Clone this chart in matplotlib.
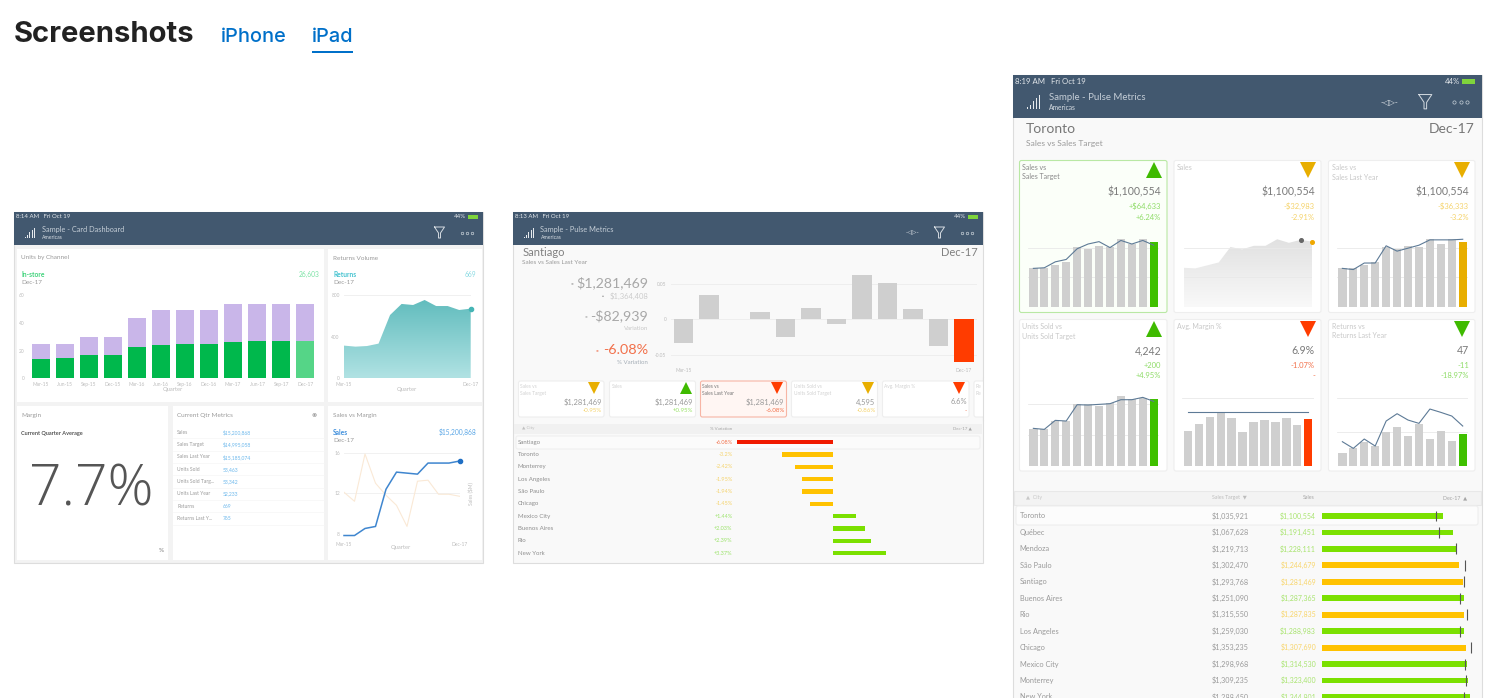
import matplotlib
matplotlib.use('Agg')
import matplotlib.pyplot as plt
import numpy as np
from matplotlib.patches import Rectangle, FancyBboxPatch
from matplotlib.colors import LinearSegmentedColormap

plt.rcParams['font.family'] = ['Lato', 'DejaVu Sans']

W, H = 1486, 698

# ---- data, left screen
quarters = ['Mar-15','Jun-15','Sep-15','Dec-15','Mar-16','Jun-16','Sep-16','Dec-16','Mar-17','Jun-17','Sep-17','Dec-17']
units_total = [24.6,25.0,29.6,29.6,43.6,49.0,49.0,49.4,53.3,53.3,53.7,53.3]
units_store = [14.2,14.5,17.1,17.1,22.9,24.3,24.6,24.8,26.5,27.0,27.2,26.6]
returns_vol = [314,304,310,333,608,714,704,752,694,694,656,669]
sales_m = [7.8,7.8,8.5,8.7,12.4,14.1,14.0,13.9,15.0,15.0,15.0,15.2]
margin_line = [12.1,11.2,15.9,13.0,11.8,10.8,8.7,13.2,13.3,11.9,11.9,11.7]
metric_names = ['Sales','Sales Target','Sales Last Year','Units Sold','Units Sold Targ...','Units Last Year','Returns','Returns Last Y...']
metric_vals = ['$15,200,868','$14,995,058','$15,185,074','53,463','53,342','52,233','669','765']

# ---- data, middle screen
variation = [-0.034,0.034,0.001,0.011,-0.025,0.0165,-0.0065,0.062,0.052,0.014,-0.038,-0.0608]
mid_cities = ['Santiago','Toronto','Monterrey','Los Angeles','São Paulo','Chicago','Mexico City','Buenos Aires','Rio','New York']
mid_pct = [-6.08,-3.2,-2.42,-1.95,-1.94,-1.45,1.44,2.03,2.39,3.37]

# ---- data, right screen (sales in $M)
sales_bars = [0.66,0.65,0.70,0.75,1.01,0.97,1.03,1.01,1.14,1.06,1.14,1.10]
sales_target = [0.65,0.66,0.76,0.80,0.98,1.06,1.10,1.00,1.12,1.06,1.12,1.04]
sales_last = [0.65,0.63,0.74,0.74,1.03,0.94,0.99,1.04,1.13,1.13,1.13,1.14]
sales_area = [0.66,0.65,0.70,0.75,1.01,0.97,1.03,1.03,1.14,1.08,1.13,1.10]
sales_area_ref = 1.135
units_bars = [1.09,1.09,1.33,1.33,1.84,1.84,1.79,1.88,2.09,1.99,2.02,2.00]
units_target = [1.12,1.09,1.36,1.34,1.83,1.82,1.84,1.86,1.98,1.98,2.05,1.93]
margin_bars = [103,125,145,162,144,101,130,136,132,144,123,140]
margin_target = [162]*12
ret_bars = [38,53,72,59,100,115,89,126,81,104,74,95]
ret_last = [72,52,80,59,134,156,137,127,170,160,149,119]

tor_cities = ['Toronto','Québec','Mendoza','São Paulo','Santiago','Buenos Aires','Rio','Los Angeles','Chicago','Mexico City','Monterrey','New York']
tor_target = [1035921,1067628,1219713,1302470,1293768,1251090,1315550,1259030,1353235,1298968,1309235,1288450]
tor_sales = [1100554,1191451,1228111,1244679,1281469,1287365,1287835,1288983,1307690,1314530,1323400,1344801]

HEAD = '#42586f'
GREY = '#cfcfcf'
TXT = '#9a9a9a'
PALE = '#bdbdbd'
GREEN = '#7be000'
GOLD = '#ffc200'
RED = '#ff3a10'

fig = plt.figure(figsize=(W/100, H/100), dpi=100, facecolor='white')
bg = fig.add_axes([0, 0, 1, 1], zorder=0)
bg.set_xlim(0, W)
bg.set_ylim(H, 0)
bg.axis('off')


def box(x0, y0, x1, y1, fc='white', ec='none', lw=0.8, z=1):
    bg.add_patch(Rectangle((x0, y0), x1-x0, y1-y0, fc=fc, ec=ec, lw=lw, zorder=z))


def card(x0, y0, x1, y1, ec='#ececec', fc='white'):
    bg.add_patch(FancyBboxPatch((x0+2, y0+2), x1-x0-4, y1-y0-4, boxstyle='round,pad=2',
                                fc=fc, ec=ec, lw=0.8, zorder=2))


def t(x, y, s, size=5, color=TXT, ha='left', weight='normal', **kw):
    bg.text(x, y, s, fontsize=size, color=color, ha=ha, va='center', fontweight=weight, zorder=5, **kw)


def axes_px(x0, y0, x1, y1):
    ax = fig.add_axes([x0/W, 1-y1/H, (x1-x0)/W, (y1-y0)/H], zorder=3)
    ax.patch.set_alpha(0)
    for s in ax.spines.values():
        s.set_visible(False)
    ax.tick_params(length=0, labelsize=3.5, labelcolor=PALE, pad=3)
    return ax


def header(x0, x1, y0, y1, clock, title, two_way=True):
    s = (y1-y0)/33.0
    box(x0, y0, x1, y1, fc=HEAD, z=2)
    cy = y0+21*s
    t(x0+2, y0+5*s, clock, size=4.3*s, color='#e4e8ec')
    t(x1-17*s, y0+5*s, '44%', size=4.3*s, color='#e4e8ec', ha='right')
    box(x1-15*s, y0+3*s, x1-5*s, y0+7*s, fc='#7fd43c', z=3)
    t(x0+27.5*s, y0+17.3*s, title, size=5.3*s, color='#c5ced7')
    t(x0+27.5*s, y0+25.3*s, 'Americas', size=3.7*s, color='#d8dee4')
    for i, h in enumerate([1.5, 3, 6, 8.5, 10.5]):
        box(x0+10.7*s+i*2.3*s, y0+26*s-h*s, x0+11.7*s+i*2.3*s, y0+26*s, fc='#e6eaee', z=3)
    fx = x1-43.5*s
    bg.plot([fx-5*s, fx+5*s, fx+1*s, fx+1*s, fx-1*s, fx-1*s, fx-5*s],
            [y0+15*s, y0+15*s, y0+21*s, y0+26*s, y0+26*s, y0+21*s, y0+15*s],
            color='#d5dbe1', lw=0.7, zorder=4)
    for i in range(3):
        bg.plot(x1-21.5*s+i*5*s, cy, 'o', ms=1.8*s, mfc='none', mec='#c5ced7', mew=0.5, zorder=4)
    if two_way:
        t(x1-71*s, cy, '-◁▷-', size=4.3*s, color='#e4e8ec', ha='center')


# page heading
bg.text(14, 35, 'Screenshots', fontsize=21, fontweight='bold', color='#222222', family='Inter', va='center')
bg.text(221, 37, 'iPhone', fontsize=14.4, fontweight='medium', color='#0070c9', family='Inter', va='center')
bg.text(312, 37, 'iPad', fontsize=14.4, fontweight='medium', color='#0070c9', family='Inter', va='center')
box(312, 51, 353, 53, fc='#0070c9')

# ---------- left screen ----------
box(14, 212, 483, 563, fc='#f3f3f3', ec='#dddddd')
header(14, 483, 212, 245, '8:14 AM   Fri Oct 19', 'Sample - Card Dashboard', two_way=False)
for r in [(17, 249, 324, 402), (328, 249, 482, 402), (17, 406, 168, 560), (173, 406, 324, 560), (328, 406, 482, 560)]:
    box(*r, fc='white')

t(21, 258, 'Units by Channel', size=4.6)
t(21, 274.5, 'In-store', size=4.8, color='#3ed27a', weight='bold')
t(320, 274.5, '26,603', size=4.8, color='#7be3a5', ha='right')
t(21, 283, 'Dec-17', size=4.6)
ax = axes_px(28.7, 295, 317.3, 378.3)
xs = np.arange(12)
store_cols = ['#00b84c']*11 + ['#55d587']
ax.bar(xs, units_total, width=0.75, color='#c9b6e9')
ax.bar(xs, units_store, width=0.75, color=store_cols)
ax.set_xlim(-0.5, 11.5)
ax.set_ylim(0, 60)
ax.set_xticks(xs, quarters)
ax.set_yticks([0, 20, 40, 60])
t(173, 390, 'Quarter', size=4.2, color=PALE, ha='center')

t(333, 258, 'Returns Volume', size=4.6)
t(333, 274.5, 'Returns', size=4.8, color='#45c3d0', weight='bold')
t(476, 274.5, '669', size=4.8, color='#8adbe3', ha='right')
t(333, 283, 'Dec-17', size=4.6)
ax = axes_px(344, 295, 470.7, 378.3)
teal = LinearSegmentedColormap.from_list('teal', ['#5cbabb', '#b0e2e3'])
poly = ax.fill_between(xs, returns_vol, 0, color='none')
im = ax.imshow(np.linspace(0, 1, 100).reshape(-1, 1), cmap=teal, extent=[0, 11, 0, 800], aspect='auto', origin='upper')
im.set_clip_path(poly.get_paths()[0], transform=ax.transData)
ax.plot(xs[-1], returns_vol[-1], 'o', ms=3, color='#45b5b5', clip_on=False)
ax.axhline(800, color='#eeeeee', lw=0.6, zorder=0)
ax.set_xlim(0, 11)
ax.set_ylim(0, 800)
ax.set_xticks([0, 11], ['Mar-15', 'Dec-17'])
ax.set_yticks([0, 400, 800])
t(407, 390, 'Quarter', size=4.2, color=PALE, ha='center')

t(21, 416, 'Margin', size=4.6)
t(21, 434, 'Current Quarter Average', size=4, color='#555555', weight='bold')
bg.text(91, 491, '7.7%', fontsize=41, fontweight='light', color='#555555', ha='center', va='center', zorder=5, family='Open Sans')
t(164, 551, '%', size=4.5, color='#999999', ha='right', weight='bold')

t(177, 416, 'Current Qtr Metrics', size=4.6)
t(314, 416, '⚭', size=6, color='#999999', ha='center')
for i, (n, v) in enumerate(zip(metric_names, metric_vals)):
    y = 432.3 + i*12.33
    t(177, y, n, size=3.6)
    t(223, y, v, size=3.6, color='#6cb8ec')
    bg.plot([173, 324], [y+6.1, y+6.1], color='#f6f6f6', lw=0.5, zorder=3)

t(333, 416, 'Sales vs Margin', size=4.6)
t(333, 432.5, 'Sales', size=4.8, color='#3f8fdc', weight='bold')
t(476, 432.5, '$15,200,868', size=4.8, color='#5aa6e6', ha='right')
t(333, 440.5, 'Dec-17', size=4.6)
ax = axes_px(344, 453, 459.5, 533.5)
ax.plot(xs, margin_line, color='#fae9d6', lw=0.8)
ax.plot(xs, sales_m, color='#3f86cf', lw=1.1, clip_on=False)
ax.plot(xs[-1], sales_m[-1], 'o', ms=3, color='#1f6fc4', clip_on=False)
ax.set_xlim(0, 11)
ax.set_ylim(8, 16)
ax.set_xticks([0, 11], ['Mar-15', 'Dec-17'])
ax.tick_params(axis='x', pad=6)
ax.set_yticks([8, 12, 16])
ax.grid(axis='y', color='#efefef', lw=0.6)
ax.set_axisbelow(True)
t(401, 548, 'Quarter', size=4.2, color=PALE, ha='center')
t(470, 494, 'Sales ($M)', size=3.6, color=PALE, ha='center', rotation=90)

# ---------- middle screen ----------
box(513, 212, 983, 563, fc='#f9f9f9', ec='#dddddd')
header(513, 983, 212, 245, '8:13 AM   Fri Oct 19', 'Sample - Pulse Metrics')
t(522.5, 252.5, 'Santiago', size=8, color='#808080')
t(978, 252.5, 'Dec-17', size=8, color='#808080', ha='right')
t(522.5, 263, 'Sales vs Sales Last Year', size=4.6)
t(648, 282.5, '$1,281,469', size=10.2, color='#a8a8a8', ha='right')
t(648, 296.3, '$1,364,408', size=5.5, color='#cccccc', ha='right')
t(648, 316, '-$82,939', size=10.2, color='#a8a8a8', ha='right')
t(648, 328.7, 'Variation', size=4.4, color='#c8c8c8', ha='right')
t(648, 350, '-6.08%', size=10.4, color='#f2704a', ha='right')
t(648, 362, '% Variation', size=4.4, color='#a6afb8', ha='right')
t(571.5, 282.5, '▪', size=5, color='#bbbbbb', ha='center')
t(602.5, 296.3, '▪', size=3.5, color='#999999', ha='center')
t(586, 316, '▪', size=5, color='#c4c4c4', ha='center')
t(596.5, 350, '▪', size=5, color='#f2a08a', ha='center')

ax = axes_px(670.6, 272, 976.7, 364)
var_cols = [GREY]*11 + ['#ff3c00']
ax.bar(xs, variation, width=0.76, color=var_cols)
ax.set_xlim(-0.5, 11.5)
ax.set_ylim(-0.0632, 0.0669)
ax.set_xticks([0, 11], ['Mar-15', 'Dec-17'])
ax.set_yticks([-0.05, 0, 0.05], ['-0.05', '0', '0.05'])
ax.grid(axis='y', color='#ececec', lw=0.6)
ax.set_axisbelow(True)

small_x = [(518.5, 604), (609.5, 695.5), (700.5, 786.5), (791.5, 877.5), (882.5, 969)]
small_title = [['Sales vs', 'Sales Target'], ['Sales'], ['Sales vs', 'Sales Last Year'], ['Units Sold vs', 'Units Sold Target'], ['Avg. Margin %']]
small_val = ['$1,281,469', '$1,281,469', '$1,281,469', '4,595', '6.6%']
small_delta = ['-0.95%', '+0.95%', '-6.08%', '-0.86%', '-']
small_mark = ['v', '^', 'v', 'v', 'v']
small_col = ['#e8ae00', '#3fba00', '#ff3c00', '#e8ae00', '#ff3c00']
small_dc = ['#f5d36b', '#9be36a', '#f2704a', '#f5d36b', '#f2704a']
for i, (a, b) in enumerate(small_x):
    sel = i == 2
    card(a, 381, b, 417, ec='#f7b5a5' if sel else '#eeeeee', fc='#fff6f3' if sel else 'white')
    for j, line in enumerate(small_title[i]):
        t(a+2, 386.5+j*7, line, size=3.5, color='#777777' if sel else '#d2d2d2')
    bg.plot(b-10, 387.5, small_mark[i], ms=8, color=small_col[i], zorder=5, mew=0)
    t(b-2, 402, small_val[i], size=5.4, color=TXT, ha='right')
    t(b-2, 410.5, small_delta[i], size=4.4, color=small_dc[i], ha='right')
card(974, 381, 990, 417, ec='#eeeeee')
t(976, 386.5, 'Re', size=3.5, color='#d2d2d2')
t(976, 393.5, 'Re', size=3.5, color='#d2d2d2')
box(983.5, 378, 992, 420, fc='white', z=3)
bg.plot([983, 983], [378, 420], color='#dddddd', lw=0.8, zorder=4)

box(514, 424, 982, 434, fc='#f1f1f1', z=2)
t(522, 428.5, '▲ City', size=3.2, color='#c0c0c0')
t(721, 428.5, '% Variation', size=3.2, color='#a5a5a5', ha='center')
t(972, 428.5, 'Dec-17 ▲', size=3.2, color='#a5a5a5', ha='right')
card(516, 436, 980, 449, ec='#f0f0f0', fc='#fbfbfb')

row_h = 12.33
ax = axes_px(616, 436.1, 980, 436.1+row_h*10)
ys = np.arange(10)
pct_cols = ['#f01a00'] + [GOLD]*5 + [GREEN]*4
ax.barh(ys, mid_pct, height=0.36, color=pct_cols)
ax.set_ylim(9.5, -0.5)
ax.set_xlim(-217/15.83, 147/15.83)
ax.set_xticks([])
ax.set_yticks([])
for i, (c, p) in enumerate(zip(mid_cities, mid_pct)):
    y = 442.3 + i*row_h
    t(518, y, c, size=4.4, color='#8f8f8f')
    s = ('%+.2f%%' % p) if p != -3.2 else '-3.2%'
    col = '#f2704a' if i == 0 else ('#f5d36b' if p < 0 else '#9be36a')
    t(732.5, y, s, size=4, color=col, ha='right')

# ---------- right screen ----------
box(1013, 75, 1482, 705, fc='#f9f9f9', ec='#dddddd')
header(1013, 1482, 75, 118, '8:19 AM   Fri Oct 19', 'Sample - Pulse Metrics')
t(1025.5, 129, 'Toronto', size=10, color='#777777')
t(1475, 129, 'Dec-17', size=10, color='#777777', ha='right')
t(1025.5, 143.5, 'Sales vs Sales Target', size=6.1)

card_x = [(1019.5, 1167), (1174, 1321), (1328.5, 1475)]
card_y = [(160.5, 312.5), (319.5, 471)]
titles = [[['Sales vs', 'Sales Target'], ['Sales'], ['Sales vs', 'Sales Last Year']],
          [['Units Sold vs', 'Units Sold Target'], ['Avg. Margin %'], ['Returns vs', 'Returns Last Year']]]
big = [['$1,100,554', '$1,100,554', '$1,100,554'], ['4,242', '6.9%', '47']]
d1 = [['+$64,633', '-$32,983', '-$36,333'], ['+200', '-1.07%', '-11']]
d2 = [['+6.24%', '-2.91%', '-3.2%'], ['+4.95%', '-', '-18.97%']]
marks = [['^', 'v', 'v'], ['^', 'v', 'v']]
mcol = [['#3fba00', '#e8ae00', '#e8ae00'], ['#3fba00', '#ff3c00', '#3fba00']]
dcol = [['#8fdc68', '#f5d36b', '#f5d36b'], ['#8fdc68', '#f2704a', '#8fdc68']]
for r in range(2):
    for c in range(3):
        a, b = card_x[c]
        top, bot = card_y[r]
        sel = r == 0 and c == 0
        card(a, top, b, bot, ec='#b9e8a4' if sel else '#eeeeee', fc='#fbfff9' if sel else 'white')
        for j, line in enumerate(titles[r][c]):
            t(a+3, top+7.3+j*9.2, line, size=5, color='#888888' if sel else '#c8c8c8')
        bg.plot(b-13, top+9, marks[r][c], ms=11, color=mcol[r][c], zorder=5, mew=0)
        t(b-6, top+31.5, big[r][c], size=7.6, color='#7a7a7a', ha='right')
        t(b-6, top+46, d1[r][c], size=5.5, color=dcol[r][c], ha='right')
        t(b-6, top+56.5, d2[r][c], size=5.5, color=dcol[r][c], ha='right')


def mini(col, row, bars, line, last_col, ymax, grids):
    x0 = card_x[col][0]+8.4
    bottom = 307 if row == 0 else 465.7
    ax = axes_px(x0, bottom-82, x0+131.3, bottom)
    pos = np.arange(12)
    ax.bar(pos, bars, width=0.76, color=[GREY]*11 + [last_col])
    if line is not None:
        ax.plot(pos, line, color='#5d7a96', lw=0.8)
    ax.set_xlim(-0.5, 11.5)
    ax.set_ylim(0, ymax)
    ax.set_xticks([])
    ax.set_yticks(grids, [''] * len(grids))
    ax.grid(axis='y', color='#e9e9e9', lw=0.6)
    ax.set_axisbelow(True)
    return ax


mini(0, 0, sales_bars, sales_target, '#3fc000', 1.38, [0.5, 1.0])
mini(2, 0, sales_bars, sales_last, '#e8ae00', 1.38, [0.5, 1.0])
mini(0, 1, units_bars, units_target, '#3fc000', 2.46, [0.92, 1.84])
mini(1, 1, margin_bars, margin_target, '#ff3c00', 246, [202])
mini(2, 1, ret_bars, ret_last, '#3fc000', 246, [100, 202])

# sales area card
ax = axes_px(1183.7, 225, 1312.3, 307)
grey_map = LinearSegmentedColormap.from_list('g', ['#dcdcdc', '#f9f9f9'])
poly = ax.fill_between(xs, sales_area, 0, color='none')
im = ax.imshow(np.linspace(0, 1, 100).reshape(-1, 1), cmap=grey_map, extent=[0, 11, 0, 1.38], aspect='auto', origin='upper')
im.set_clip_path(poly.get_paths()[0], transform=ax.transData)
ax.plot(10, sales_area_ref, 'o', ms=2.6, color='#666666')
ax.plot(11, sales_area[-1], 'o', ms=2.6, color='#f0a800', clip_on=False)
ax.set_xlim(0, 11)
ax.set_ylim(0, 1.38)
ax.set_xticks([])
ax.set_yticks([0.5, 1.0], ['', ''])
ax.grid(axis='y', color='#e9e9e9', lw=0.6)
ax.set_axisbelow(True)

# table
box(1014, 491, 1481, 505, fc='#f3f3f3', ec='#e8e8e8', z=2)
t(1026, 497.5, '▲  City', size=3.8, color='#c8c8c8')
t(1247, 497.5, 'Sales Target  ▼', size=3.8, color='#bdbdbd', ha='right')
t(1315, 497.5, 'Sales', size=3.8, color='#a5a5a5', ha='right')
t(1467, 497.5, 'Dec-17  ▲', size=3.8, color='#a5a5a5', ha='right')
card(1016, 506, 1478, 525, ec='#eeeeee', fc='#fcfcfc')

row_h = 16.45
ax = axes_px(1322, 507.8, 1482, 507.8+row_h*12)
ys = np.arange(12)
colors = [GREEN if s >= g else GOLD for s, g in zip(tor_sales, tor_target)]
ax.barh(ys, tor_sales, height=0.36, color=colors)
ax.vlines(tor_target, ys-0.33, ys+0.33, color='#555555', lw=0.8)
ax.set_ylim(11.5, -0.5)
ax.set_xlim(0, 160/0.00011)
ax.set_xticks([])
ax.set_yticks([])
for i, c in enumerate(tor_cities):
    y = 516 + i*row_h
    t(1019.5, y, c, size=5.3, color='#9a9a9a')
    t(1249, y, '${:,}'.format(tor_target[i]), size=5.2, color='#9a9a9a', ha='right')
    col = '#a8e46e' if tor_sales[i] >= tor_target[i] else '#f8d56a'
    t(1316, y, '${:,}'.format(tor_sales[i]), size=5, color=col, ha='right')

fig.savefig('out.png', dpi=100, facecolor='white')
